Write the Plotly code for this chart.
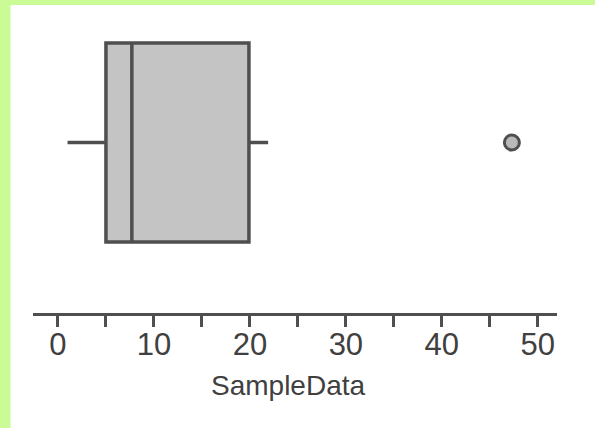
import plotly.graph_objects as go

# ---- data ----
variable = "SampleData"
lower_whisker = [1.0]
q1 = [5.0]
median = [7.7]
q3 = [19.9]
upper_whisker = [21.9]
outliers = [47.3]
tick_vals = [0, 10, 20, 30, 40, 50]
tick_labels = ["0", "10", "20", "30", "40", "50"]

W, H = 595, 428
L, R, T, B = 33, 38, 5, 115
pw, ph = W - L - R, H - T - B

DARK = "#4f4f4f"
FILL = "#c4c4c4"
GREEN = "#cbfb97"
TEXT = "#404040"

fig = go.Figure()
fig.add_trace(go.Box(
    y=[0], q1=q1, median=median, q3=q3,
    lowerfence=lower_whisker, upperfence=upper_whisker,
    orientation="h", width=1.99,
    fillcolor=FILL, line=dict(color=DARK, width=3.5),
    whiskerwidth=0, boxpoints=False, showlegend=False, hoverinfo="skip",
))
fig.add_trace(go.Scatter(
    x=outliers, y=[0] * len(outliers), mode="markers",
    marker=dict(size=15, color="#b9b9b9", line=dict(color=DARK, width=3)),
    showlegend=False, hoverinfo="skip",
))

# green scan border (left and top)
def px_x(p):
    return (p - L) / pw

def px_y(p):
    return (H - B - p) / ph

fig.add_shape(type="rect", xref="paper", yref="paper",
              x0=px_x(0), x1=px_x(10.5), y0=px_y(H), y1=px_y(0),
              fillcolor=GREEN, line_width=0, layer="below")
fig.add_shape(type="rect", xref="paper", yref="paper",
              x0=px_x(0), x1=px_x(W), y0=px_y(5), y1=px_y(0),
              fillcolor=GREEN, line_width=0, layer="below")

# axis title as annotation for exact placement
fig.add_annotation(text=variable, xref="paper", yref="paper",
                   x=px_x(288), y=px_y(385), xanchor="center", yanchor="middle",
                   showarrow=False, font=dict(size=28, color=TEXT))

fig.update_layout(
    width=W, height=H,
    margin=dict(l=L, r=R, t=T, b=B),
    paper_bgcolor="white", plot_bgcolor="white",
    font=dict(family="Liberation Sans, Arial, sans-serif", color=TEXT),
    xaxis=dict(
        range=[-2.6, 52.0], showgrid=False, zeroline=False,
        showline=True, linecolor=DARK, linewidth=3,
        ticks="outside", ticklen=11, tickwidth=3, tickcolor=DARK,
        tickvals=tick_vals, ticktext=tick_labels,
        minor=dict(ticks="outside", ticklen=11, tickwidth=3, tickcolor=DARK, dtick=5, tick0=0),
        tickfont=dict(size=31, color=TEXT),
        ticklabelstandoff=-9,
    ),
    yaxis=dict(range=[-1.705, 1.375], visible=False, showgrid=False, zeroline=False),
)

fig.write_html("out.html")
